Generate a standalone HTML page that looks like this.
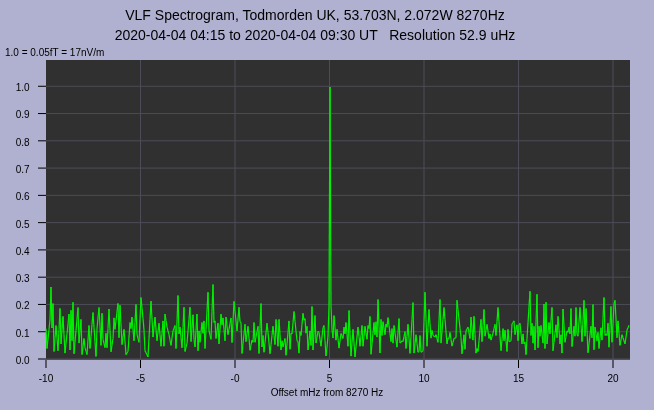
<!DOCTYPE html>
<html><head><meta charset="utf-8"><title>VLF Spectrogram</title>
<style>
html,body{margin:0;padding:0;background:#b0b0d0;}
body{width:654px;height:410px;overflow:hidden;position:relative;font-family:"Liberation Sans",sans-serif;color:#101018;}
svg{position:absolute;left:0;top:0;display:block;will-change:transform}
text{font-family:"Liberation Sans",sans-serif;fill:#000}
.t{font-size:14px;text-anchor:middle}
.s{font-size:10px}
.g{stroke:#4c4c58;stroke-width:1}
.k{stroke:#000;stroke-width:1}
</style></head><body>
<svg width="654" height="410" viewBox="0 0 654 410">
<rect x="0" y="0" width="654" height="410" fill="#b0b0d0"/>
<rect x="46" y="60" width="584" height="299.7" fill="#303030"/>
<text class="t" x="315" y="20">VLF Spectrogram, Todmorden UK, 53.703N, 2.072W 8270Hz</text>
<text class="t" x="315" y="40" style="white-space:pre">2020-04-04 04:15 to 2020-04-04 09:30 UT   Resolution 52.9 uHz</text>
<text class="s" x="5" y="56">1.0 = 0.05fT = 17nV/m</text>
<text class="s" x="327" y="396" text-anchor="middle">Offset mHz from 8270 Hz</text>

<line class="g" x1="46" x2="630" y1="359.0" y2="359.0"/>
<line class="k" x1="38" x2="46" y1="359.0" y2="359.0"/>
<line class="g" x1="46" x2="630" y1="331.73" y2="331.73"/>
<line class="k" x1="38" x2="46" y1="331.73" y2="331.73"/>
<line class="g" x1="46" x2="630" y1="304.45" y2="304.45"/>
<line class="k" x1="38" x2="46" y1="304.45" y2="304.45"/>
<line class="g" x1="46" x2="630" y1="277.18" y2="277.18"/>
<line class="k" x1="38" x2="46" y1="277.18" y2="277.18"/>
<line class="g" x1="46" x2="630" y1="249.91" y2="249.91"/>
<line class="k" x1="38" x2="46" y1="249.91" y2="249.91"/>
<line class="g" x1="46" x2="630" y1="222.64" y2="222.64"/>
<line class="k" x1="38" x2="46" y1="222.64" y2="222.64"/>
<line class="g" x1="46" x2="630" y1="195.36" y2="195.36"/>
<line class="k" x1="38" x2="46" y1="195.36" y2="195.36"/>
<line class="g" x1="46" x2="630" y1="168.09" y2="168.09"/>
<line class="k" x1="38" x2="46" y1="168.09" y2="168.09"/>
<line class="g" x1="46" x2="630" y1="140.82" y2="140.82"/>
<line class="k" x1="38" x2="46" y1="140.82" y2="140.82"/>
<line class="g" x1="46" x2="630" y1="113.55" y2="113.55"/>
<line class="k" x1="38" x2="46" y1="113.55" y2="113.55"/>
<line class="g" x1="46" x2="630" y1="86.27" y2="86.27"/>
<line class="k" x1="38" x2="46" y1="86.27" y2="86.27"/>
<line class="k" x1="46.0" x2="46.0" y1="360" y2="368"/>
<line class="g" x1="140.5" x2="140.5" y1="60" y2="359.7"/>
<line class="k" x1="140.5" x2="140.5" y1="360" y2="368"/>
<line class="g" x1="235.0" x2="235.0" y1="60" y2="359.7"/>
<line class="k" x1="235.0" x2="235.0" y1="360" y2="368"/>
<line class="g" x1="329.5" x2="329.5" y1="60" y2="359.7"/>
<line class="k" x1="329.5" x2="329.5" y1="360" y2="368"/>
<line class="g" x1="424.0" x2="424.0" y1="60" y2="359.7"/>
<line class="k" x1="424.0" x2="424.0" y1="360" y2="368"/>
<line class="g" x1="518.5" x2="518.5" y1="60" y2="359.7"/>
<line class="k" x1="518.5" x2="518.5" y1="360" y2="368"/>
<line class="g" x1="613.0" x2="613.0" y1="60" y2="359.7"/>
<line class="k" x1="613.0" x2="613.0" y1="360" y2="368"/>
<text class="s" x="29.7" y="363.90" text-anchor="end">0.0</text>
<text class="s" x="29.7" y="336.63" text-anchor="end">0.1</text>
<text class="s" x="29.7" y="309.35" text-anchor="end">0.2</text>
<text class="s" x="29.7" y="282.08" text-anchor="end">0.3</text>
<text class="s" x="29.7" y="254.81" text-anchor="end">0.4</text>
<text class="s" x="29.7" y="227.54" text-anchor="end">0.5</text>
<text class="s" x="29.7" y="200.26" text-anchor="end">0.6</text>
<text class="s" x="29.7" y="172.99" text-anchor="end">0.7</text>
<text class="s" x="29.7" y="145.72" text-anchor="end">0.8</text>
<text class="s" x="29.7" y="118.45" text-anchor="end">0.9</text>
<text class="s" x="29.7" y="91.17" text-anchor="end">1.0</text>
<text class="s" x="46.0" y="381.5" text-anchor="middle">-10</text>
<text class="s" x="140.5" y="381.5" text-anchor="middle">-5</text>
<text class="s" x="235.0" y="381.5" text-anchor="middle">-0</text>
<text class="s" x="329.5" y="381.5" text-anchor="middle">5</text>
<text class="s" x="424.0" y="381.5" text-anchor="middle">10</text>
<text class="s" x="518.5" y="381.5" text-anchor="middle">15</text>
<text class="s" x="613.0" y="381.5" text-anchor="middle">20</text>
<g fill="none" stroke="#00f000" stroke-width="1.2" stroke-linecap="butt">
<line x1="46" y1="328.6" x2="47" y2="348.5"/>
<line x1="47" y1="348.5" x2="48" y2="339.0"/>
<line x1="48" y1="339.0" x2="49" y2="329.5"/>
<line x1="49" y1="329.5" x2="50" y2="320.0"/>
<line x1="50" y1="320.0" x2="51" y2="287.0"/>
<line x1="51" y1="287.0" x2="52" y2="328.0"/>
<line x1="52" y1="328.0" x2="53" y2="303.4"/>
<line x1="53" y1="303.4" x2="54" y2="351.5"/>
<line x1="54" y1="351.5" x2="55" y2="338.5"/>
<line x1="55" y1="338.5" x2="56" y2="325.5"/>
<line x1="56" y1="325.5" x2="57" y2="338.1"/>
<line x1="57" y1="338.1" x2="58" y2="350.8"/>
<line x1="58" y1="350.8" x2="59" y2="329.6"/>
<line x1="59" y1="329.6" x2="60" y2="308.4"/>
<line x1="60" y1="308.4" x2="61" y2="343.9"/>
<line x1="61" y1="343.9" x2="62" y2="330.1"/>
<line x1="62" y1="330.1" x2="63" y2="316.4"/>
<line x1="63" y1="316.4" x2="64" y2="334.7"/>
<line x1="64" y1="334.7" x2="65" y2="353.1"/>
<line x1="65" y1="353.1" x2="66" y2="343.3"/>
<line x1="66" y1="343.3" x2="67" y2="333.6"/>
<line x1="67" y1="333.6" x2="68" y2="323.8"/>
<line x1="68" y1="323.8" x2="69" y2="314.1"/>
<line x1="69" y1="314.1" x2="70" y2="350.0"/>
<line x1="70" y1="350.0" x2="71" y2="310.2"/>
<line x1="71" y1="310.2" x2="72" y2="340.8"/>
<line x1="72" y1="340.8" x2="73" y2="302.3"/>
<line x1="73" y1="302.3" x2="74" y2="353.8"/>
<line x1="74" y1="353.8" x2="75" y2="342.2"/>
<line x1="75" y1="342.2" x2="76" y2="330.6"/>
<line x1="76" y1="330.6" x2="77" y2="319.1"/>
<line x1="77" y1="319.1" x2="78" y2="307.5"/>
<line x1="78" y1="307.5" x2="79" y2="343.1"/>
<line x1="79" y1="343.1" x2="80" y2="331.3"/>
<line x1="80" y1="331.3" x2="81" y2="319.4"/>
<line x1="81" y1="319.4" x2="82" y2="354.6"/>
<line x1="82" y1="354.6" x2="83" y2="346.5"/>
<line x1="83" y1="346.5" x2="84" y2="338.5"/>
<line x1="84" y1="338.5" x2="85" y2="347.7"/>
<line x1="85" y1="347.7" x2="86" y2="351.1"/>
<line x1="86" y1="351.1" x2="87" y2="354.6"/>
<line x1="87" y1="354.6" x2="88" y2="340.0"/>
<line x1="88" y1="340.0" x2="89" y2="325.5"/>
<line x1="89" y1="325.5" x2="90" y2="348.5"/>
<line x1="90" y1="348.5" x2="91" y2="336.5"/>
<line x1="91" y1="336.5" x2="92" y2="324.5"/>
<line x1="92" y1="324.5" x2="93" y2="312.5"/>
<line x1="93" y1="312.5" x2="94" y2="327.2"/>
<line x1="94" y1="327.2" x2="95" y2="341.8"/>
<line x1="95" y1="341.8" x2="96" y2="356.4"/>
<line x1="96" y1="356.4" x2="97" y2="328.6"/>
<line x1="97" y1="328.6" x2="98" y2="318.0"/>
<line x1="98" y1="318.0" x2="99" y2="307.5"/>
<line x1="99" y1="307.5" x2="100" y2="326.4"/>
<line x1="100" y1="326.4" x2="101" y2="345.4"/>
<line x1="101" y1="345.4" x2="102" y2="313.3"/>
<line x1="102" y1="313.3" x2="103" y2="339.3"/>
<line x1="103" y1="339.3" x2="104" y2="343.5"/>
<line x1="104" y1="343.5" x2="105" y2="347.7"/>
<line x1="105" y1="347.7" x2="106" y2="333.2"/>
<line x1="106" y1="333.2" x2="107" y2="347.7"/>
<line x1="107" y1="347.7" x2="108" y2="328.4"/>
<line x1="108" y1="328.4" x2="109" y2="309.0"/>
<line x1="109" y1="309.0" x2="110" y2="330.4"/>
<line x1="110" y1="330.4" x2="111" y2="351.8"/>
<line x1="111" y1="351.8" x2="112" y2="345.2"/>
<line x1="112" y1="345.2" x2="113" y2="338.5"/>
<line x1="113" y1="338.5" x2="114" y2="317.9"/>
<line x1="114" y1="317.9" x2="115" y2="329.4"/>
<line x1="115" y1="329.4" x2="116" y2="320.7"/>
<line x1="116" y1="320.7" x2="117" y2="312.0"/>
<line x1="117" y1="312.0" x2="118" y2="303.4"/>
<line x1="118" y1="303.4" x2="119" y2="337.8"/>
<line x1="119" y1="337.8" x2="120" y2="305.3"/>
<line x1="120" y1="305.3" x2="121" y2="325.0"/>
<line x1="121" y1="325.0" x2="122" y2="344.6"/>
<line x1="122" y1="344.6" x2="123" y2="337.0"/>
<line x1="123" y1="337.0" x2="124" y2="329.4"/>
<line x1="124" y1="329.4" x2="125" y2="342.0"/>
<line x1="125" y1="342.0" x2="126" y2="354.6"/>
<line x1="126" y1="354.6" x2="127" y2="353.0"/>
<line x1="127" y1="353.0" x2="128" y2="351.5"/>
<line x1="128" y1="351.5" x2="129" y2="337.0"/>
<line x1="129" y1="337.0" x2="130" y2="322.5"/>
<line x1="130" y1="322.5" x2="131" y2="328.6"/>
<line x1="131" y1="328.6" x2="132" y2="317.1"/>
<line x1="132" y1="317.1" x2="133" y2="329.0"/>
<line x1="133" y1="329.0" x2="134" y2="340.8"/>
<line x1="134" y1="340.8" x2="135" y2="322.6"/>
<line x1="135" y1="322.6" x2="136" y2="304.4"/>
<line x1="136" y1="304.4" x2="137" y2="334.7"/>
<line x1="137" y1="334.7" x2="138" y2="338.5"/>
<line x1="138" y1="338.5" x2="139" y2="342.3"/>
<line x1="139" y1="342.3" x2="140" y2="319.9"/>
<line x1="140" y1="319.9" x2="141" y2="297.5"/>
<line x1="141" y1="297.5" x2="142" y2="308.1"/>
<line x1="142" y1="308.1" x2="143" y2="318.6"/>
<line x1="143" y1="318.6" x2="144" y2="330.1"/>
<line x1="144" y1="330.1" x2="145" y2="350.8"/>
<line x1="145" y1="350.8" x2="146" y2="352.8"/>
<line x1="146" y1="352.8" x2="147" y2="354.8"/>
<line x1="147" y1="354.8" x2="148" y2="356.9"/>
<line x1="148" y1="356.9" x2="149" y2="338.3"/>
<line x1="149" y1="338.3" x2="150" y2="319.7"/>
<line x1="150" y1="319.7" x2="151" y2="301.1"/>
<line x1="151" y1="301.1" x2="152" y2="319.0"/>
<line x1="152" y1="319.0" x2="153" y2="337.0"/>
<line x1="153" y1="337.0" x2="154" y2="327.1"/>
<line x1="154" y1="327.1" x2="155" y2="317.1"/>
<line x1="155" y1="317.1" x2="156" y2="329.0"/>
<line x1="156" y1="329.0" x2="157" y2="340.8"/>
<line x1="157" y1="340.8" x2="158" y2="332.0"/>
<line x1="158" y1="332.0" x2="159" y2="323.2"/>
<line x1="159" y1="323.2" x2="160" y2="334.7"/>
<line x1="160" y1="334.7" x2="161" y2="346.2"/>
<line x1="161" y1="346.2" x2="162" y2="333.6"/>
<line x1="162" y1="333.6" x2="163" y2="320.9"/>
<line x1="163" y1="320.9" x2="164" y2="346.2"/>
<line x1="164" y1="346.2" x2="165" y2="314.1"/>
<line x1="165" y1="314.1" x2="166" y2="320.6"/>
<line x1="166" y1="320.6" x2="167" y2="327.1"/>
<line x1="167" y1="327.1" x2="168" y2="330.9"/>
<line x1="168" y1="330.9" x2="169" y2="334.7"/>
<line x1="169" y1="334.7" x2="170" y2="340.0"/>
<line x1="170" y1="340.0" x2="171" y2="345.4"/>
<line x1="171" y1="345.4" x2="172" y2="338.1"/>
<line x1="172" y1="338.1" x2="173" y2="330.9"/>
<line x1="173" y1="330.9" x2="174" y2="328.2"/>
<line x1="174" y1="328.2" x2="175" y2="325.5"/>
<line x1="175" y1="325.5" x2="176" y2="348.5"/>
<line x1="176" y1="348.5" x2="177" y2="321.9"/>
<line x1="177" y1="321.9" x2="178" y2="295.4"/>
<line x1="178" y1="295.4" x2="179" y2="333.9"/>
<line x1="179" y1="333.9" x2="180" y2="327.1"/>
<line x1="180" y1="327.1" x2="181" y2="337.4"/>
<line x1="181" y1="337.4" x2="182" y2="347.7"/>
<line x1="182" y1="347.7" x2="183" y2="327.4"/>
<line x1="183" y1="327.4" x2="184" y2="307.2"/>
<line x1="184" y1="307.2" x2="185" y2="351.5"/>
<line x1="185" y1="351.5" x2="186" y2="347.3"/>
<line x1="186" y1="347.3" x2="187" y2="343.1"/>
<line x1="187" y1="343.1" x2="188" y2="331.1"/>
<line x1="188" y1="331.1" x2="189" y2="319.2"/>
<line x1="189" y1="319.2" x2="190" y2="307.2"/>
<line x1="190" y1="307.2" x2="191" y2="341.6"/>
<line x1="191" y1="341.6" x2="192" y2="328.2"/>
<line x1="192" y1="328.2" x2="193" y2="314.8"/>
<line x1="193" y1="314.8" x2="194" y2="339.3"/>
<line x1="194" y1="339.3" x2="195" y2="346.9"/>
<line x1="195" y1="346.9" x2="196" y2="330.5"/>
<line x1="196" y1="330.5" x2="197" y2="314.1"/>
<line x1="197" y1="314.1" x2="198" y2="350.8"/>
<line x1="198" y1="350.8" x2="199" y2="330.9"/>
<line x1="199" y1="330.9" x2="200" y2="342.3"/>
<line x1="200" y1="342.3" x2="201" y2="332.4"/>
<line x1="201" y1="332.4" x2="202" y2="322.5"/>
<line x1="202" y1="322.5" x2="203" y2="333.2"/>
<line x1="203" y1="333.2" x2="204" y2="320.9"/>
<line x1="204" y1="320.9" x2="205" y2="348.5"/>
<line x1="205" y1="348.5" x2="206" y2="329.8"/>
<line x1="206" y1="329.8" x2="207" y2="311.0"/>
<line x1="207" y1="311.0" x2="208" y2="292.3"/>
<line x1="208" y1="292.3" x2="209" y2="330.9"/>
<line x1="209" y1="330.9" x2="210" y2="335.1"/>
<line x1="210" y1="335.1" x2="211" y2="339.3"/>
<line x1="211" y1="339.3" x2="212" y2="311.8"/>
<line x1="212" y1="311.8" x2="213" y2="284.4"/>
<line x1="213" y1="284.4" x2="214" y2="322.5"/>
<line x1="214" y1="322.5" x2="215" y2="320.9"/>
<line x1="215" y1="320.9" x2="216" y2="338.5"/>
<line x1="216" y1="338.5" x2="217" y2="330.9"/>
<line x1="217" y1="330.9" x2="218" y2="323.2"/>
<line x1="218" y1="323.2" x2="219" y2="343.9"/>
<line x1="219" y1="343.9" x2="220" y2="329.0"/>
<line x1="220" y1="329.0" x2="221" y2="314.1"/>
<line x1="221" y1="314.1" x2="222" y2="324.8"/>
<line x1="222" y1="324.8" x2="223" y2="317.9"/>
<line x1="223" y1="317.9" x2="224" y2="329.3"/>
<line x1="224" y1="329.3" x2="225" y2="340.8"/>
<line x1="225" y1="340.8" x2="226" y2="317.1"/>
<line x1="226" y1="317.1" x2="227" y2="325.9"/>
<line x1="227" y1="325.9" x2="228" y2="334.7"/>
<line x1="228" y1="334.7" x2="229" y2="329.1"/>
<line x1="229" y1="329.1" x2="230" y2="323.5"/>
<line x1="230" y1="323.5" x2="231" y2="317.9"/>
<line x1="231" y1="317.9" x2="232" y2="342.6"/>
<line x1="232" y1="342.6" x2="233" y2="322.0"/>
<line x1="233" y1="322.0" x2="234" y2="301.4"/>
<line x1="234" y1="301.4" x2="235" y2="311.2"/>
<line x1="235" y1="311.2" x2="236" y2="321.0"/>
<line x1="236" y1="321.0" x2="237" y2="330.9"/>
<line x1="237" y1="330.9" x2="238" y2="319.0"/>
<line x1="238" y1="319.0" x2="239" y2="307.2"/>
<line x1="239" y1="307.2" x2="240" y2="321.7"/>
<line x1="240" y1="321.7" x2="241" y2="322.5"/>
<line x1="241" y1="322.5" x2="242" y2="353.4"/>
<line x1="242" y1="353.4" x2="243" y2="343.7"/>
<line x1="243" y1="343.7" x2="244" y2="334.0"/>
<line x1="244" y1="334.0" x2="245" y2="324.3"/>
<line x1="245" y1="324.3" x2="246" y2="341.6"/>
<line x1="246" y1="341.6" x2="247" y2="333.9"/>
<line x1="247" y1="333.9" x2="248" y2="326.3"/>
<line x1="248" y1="326.3" x2="249" y2="338.3"/>
<line x1="249" y1="338.3" x2="250" y2="350.3"/>
<line x1="250" y1="350.3" x2="251" y2="345.2"/>
<line x1="251" y1="345.2" x2="252" y2="340.1"/>
<line x1="252" y1="340.1" x2="253" y2="342.3"/>
<line x1="253" y1="342.3" x2="254" y2="322.5"/>
<line x1="254" y1="322.5" x2="255" y2="342.3"/>
<line x1="255" y1="342.3" x2="256" y2="337.0"/>
<line x1="256" y1="337.0" x2="257" y2="331.6"/>
<line x1="257" y1="331.6" x2="258" y2="326.3"/>
<line x1="258" y1="326.3" x2="259" y2="353.4"/>
<line x1="259" y1="353.4" x2="260" y2="328.4"/>
<line x1="260" y1="328.4" x2="261" y2="303.4"/>
<line x1="261" y1="303.4" x2="262" y2="346.9"/>
<line x1="262" y1="346.9" x2="263" y2="335.5"/>
<line x1="263" y1="335.5" x2="264" y2="352.3"/>
<line x1="264" y1="352.3" x2="265" y2="342.6"/>
<line x1="265" y1="342.6" x2="266" y2="332.9"/>
<line x1="266" y1="332.9" x2="267" y2="323.2"/>
<line x1="267" y1="323.2" x2="268" y2="332.4"/>
<line x1="268" y1="332.4" x2="269" y2="343.1"/>
<line x1="269" y1="343.1" x2="270" y2="353.8"/>
<line x1="270" y1="353.8" x2="271" y2="344.6"/>
<line x1="271" y1="344.6" x2="272" y2="335.5"/>
<line x1="272" y1="335.5" x2="273" y2="326.3"/>
<line x1="273" y1="326.3" x2="274" y2="335.5"/>
<line x1="274" y1="335.5" x2="275" y2="344.6"/>
<line x1="275" y1="344.6" x2="276" y2="319.4"/>
<line x1="276" y1="319.4" x2="277" y2="332.8"/>
<line x1="277" y1="332.8" x2="278" y2="346.2"/>
<line x1="278" y1="346.2" x2="279" y2="319.4"/>
<line x1="279" y1="319.4" x2="280" y2="334.7"/>
<line x1="280" y1="334.7" x2="281" y2="350.0"/>
<line x1="281" y1="350.0" x2="282" y2="340.8"/>
<line x1="282" y1="340.8" x2="283" y2="346.9"/>
<line x1="283" y1="346.9" x2="284" y2="342.7"/>
<line x1="284" y1="342.7" x2="285" y2="338.5"/>
<line x1="285" y1="338.5" x2="286" y2="355.3"/>
<line x1="286" y1="355.3" x2="287" y2="343.9"/>
<line x1="287" y1="343.9" x2="288" y2="332.4"/>
<line x1="288" y1="332.4" x2="289" y2="320.9"/>
<line x1="289" y1="320.9" x2="290" y2="349.2"/>
<line x1="290" y1="349.2" x2="291" y2="333.2"/>
<line x1="291" y1="333.2" x2="292" y2="333.9"/>
<line x1="292" y1="333.9" x2="293" y2="322.7"/>
<line x1="293" y1="322.7" x2="294" y2="311.5"/>
<line x1="294" y1="311.5" x2="295" y2="321.2"/>
<line x1="295" y1="321.2" x2="296" y2="331.0"/>
<line x1="296" y1="331.0" x2="297" y2="340.8"/>
<line x1="297" y1="340.8" x2="298" y2="341.6"/>
<line x1="298" y1="341.6" x2="299" y2="353.1"/>
<line x1="299" y1="353.1" x2="300" y2="331.6"/>
<line x1="300" y1="331.6" x2="301" y2="335.5"/>
<line x1="301" y1="335.5" x2="302" y2="324.4"/>
<line x1="302" y1="324.4" x2="303" y2="313.3"/>
<line x1="303" y1="313.3" x2="304" y2="320.2"/>
<line x1="304" y1="320.2" x2="305" y2="318.6"/>
<line x1="305" y1="318.6" x2="306" y2="333.2"/>
<line x1="306" y1="333.2" x2="307" y2="326.3"/>
<line x1="307" y1="326.3" x2="308" y2="350.0"/>
<line x1="308" y1="350.0" x2="309" y2="340.4"/>
<line x1="309" y1="340.4" x2="310" y2="330.9"/>
<line x1="310" y1="330.9" x2="311" y2="345.4"/>
<line x1="311" y1="345.4" x2="312" y2="306.4"/>
<line x1="312" y1="306.4" x2="313" y2="350.0"/>
<line x1="313" y1="350.0" x2="314" y2="332.8"/>
<line x1="314" y1="332.8" x2="315" y2="315.6"/>
<line x1="315" y1="315.6" x2="316" y2="343.1"/>
<line x1="316" y1="343.1" x2="317" y2="337.2"/>
<line x1="317" y1="337.2" x2="318" y2="331.3"/>
<line x1="318" y1="331.3" x2="319" y2="332.4"/>
<line x1="319" y1="332.4" x2="320" y2="339.3"/>
<line x1="320" y1="339.3" x2="321" y2="346.2"/>
<line x1="321" y1="346.2" x2="322" y2="337.0"/>
<line x1="322" y1="337.0" x2="323" y2="327.8"/>
<line x1="323" y1="327.8" x2="324" y2="325.5"/>
<line x1="324" y1="325.5" x2="325" y2="340.8"/>
<line x1="325" y1="340.8" x2="326" y2="356.0"/>
<line x1="326" y1="356.0" x2="327" y2="347.0"/>
<line x1="327" y1="347.0" x2="328" y2="336.0"/>
<line x1="328" y1="336.0" x2="329" y2="306.0"/>
<line x1="329" y1="306.0" x2="330" y2="87.0"/>
<line x1="330" y1="87.0" x2="331" y2="306.0"/>
<line x1="331" y1="306.0" x2="332" y2="329.0"/>
<line x1="332" y1="329.0" x2="333" y2="338.0"/>
<line x1="333" y1="338.0" x2="334" y2="315.6"/>
<line x1="334" y1="315.6" x2="335" y2="327.8"/>
<line x1="335" y1="327.8" x2="336" y2="340.1"/>
<line x1="336" y1="340.1" x2="337" y2="329.4"/>
<line x1="337" y1="329.4" x2="338" y2="338.8"/>
<line x1="338" y1="338.8" x2="339" y2="348.1"/>
<line x1="339" y1="348.1" x2="340" y2="340.8"/>
<line x1="340" y1="340.8" x2="341" y2="333.5"/>
<line x1="341" y1="333.5" x2="342" y2="336.0"/>
<line x1="342" y1="336.0" x2="343" y2="338.5"/>
<line x1="343" y1="338.5" x2="344" y2="327.1"/>
<line x1="344" y1="327.1" x2="345" y2="333.9"/>
<line x1="345" y1="333.9" x2="346" y2="322.5"/>
<line x1="346" y1="322.5" x2="347" y2="334.3"/>
<line x1="347" y1="334.3" x2="348" y2="346.2"/>
<line x1="348" y1="346.2" x2="349" y2="310.5"/>
<line x1="349" y1="310.5" x2="350" y2="333.3"/>
<line x1="350" y1="333.3" x2="351" y2="356.1"/>
<line x1="351" y1="356.1" x2="352" y2="342.7"/>
<line x1="352" y1="342.7" x2="353" y2="329.4"/>
<line x1="353" y1="329.4" x2="354" y2="343.1"/>
<line x1="354" y1="343.1" x2="355" y2="356.9"/>
<line x1="355" y1="356.9" x2="356" y2="346.9"/>
<line x1="356" y1="346.9" x2="357" y2="337.0"/>
<line x1="357" y1="337.0" x2="358" y2="327.1"/>
<line x1="358" y1="327.1" x2="359" y2="336.6"/>
<line x1="359" y1="336.6" x2="360" y2="346.2"/>
<line x1="360" y1="346.2" x2="361" y2="335.8"/>
<line x1="361" y1="335.8" x2="362" y2="325.5"/>
<line x1="362" y1="325.5" x2="363" y2="346.2"/>
<line x1="363" y1="346.2" x2="364" y2="336.2"/>
<line x1="364" y1="336.2" x2="365" y2="326.3"/>
<line x1="365" y1="326.3" x2="366" y2="332.8"/>
<line x1="366" y1="332.8" x2="367" y2="339.3"/>
<line x1="367" y1="339.3" x2="368" y2="325.5"/>
<line x1="368" y1="325.5" x2="369" y2="328.6"/>
<line x1="369" y1="328.6" x2="370" y2="316.4"/>
<line x1="370" y1="316.4" x2="371" y2="354.3"/>
<line x1="371" y1="354.3" x2="372" y2="343.7"/>
<line x1="372" y1="343.7" x2="373" y2="333.1"/>
<line x1="373" y1="333.1" x2="374" y2="322.5"/>
<line x1="374" y1="322.5" x2="375" y2="334.7"/>
<line x1="375" y1="334.7" x2="376" y2="321.7"/>
<line x1="376" y1="321.7" x2="377" y2="337.0"/>
<line x1="377" y1="337.0" x2="378" y2="299.5"/>
<line x1="378" y1="299.5" x2="379" y2="326.3"/>
<line x1="379" y1="326.3" x2="380" y2="353.1"/>
<line x1="380" y1="353.1" x2="381" y2="319.4"/>
<line x1="381" y1="319.4" x2="382" y2="335.5"/>
<line x1="382" y1="335.5" x2="383" y2="321.7"/>
<line x1="383" y1="321.7" x2="384" y2="328.2"/>
<line x1="384" y1="328.2" x2="385" y2="334.7"/>
<line x1="385" y1="334.7" x2="386" y2="324.0"/>
<line x1="386" y1="324.0" x2="387" y2="327.1"/>
<line x1="387" y1="327.1" x2="388" y2="317.6"/>
<line x1="388" y1="317.6" x2="389" y2="325.6"/>
<line x1="389" y1="325.6" x2="390" y2="333.6"/>
<line x1="390" y1="333.6" x2="391" y2="341.6"/>
<line x1="391" y1="341.6" x2="392" y2="328.6"/>
<line x1="392" y1="328.6" x2="393" y2="343.1"/>
<line x1="393" y1="343.1" x2="394" y2="325.5"/>
<line x1="394" y1="325.5" x2="395" y2="332.8"/>
<line x1="395" y1="332.8" x2="396" y2="340.0"/>
<line x1="396" y1="340.0" x2="397" y2="347.2"/>
<line x1="397" y1="347.2" x2="398" y2="332.9"/>
<line x1="398" y1="332.9" x2="399" y2="318.6"/>
<line x1="399" y1="318.6" x2="400" y2="343.1"/>
<line x1="400" y1="343.1" x2="401" y2="342.0"/>
<line x1="401" y1="342.0" x2="402" y2="340.8"/>
<line x1="402" y1="340.8" x2="403" y2="341.6"/>
<line x1="403" y1="341.6" x2="404" y2="336.6"/>
<line x1="404" y1="336.6" x2="405" y2="331.6"/>
<line x1="405" y1="331.6" x2="406" y2="348.5"/>
<line x1="406" y1="348.5" x2="407" y2="336.4"/>
<line x1="407" y1="336.4" x2="408" y2="324.3"/>
<line x1="408" y1="324.3" x2="409" y2="338.8"/>
<line x1="409" y1="338.8" x2="410" y2="353.4"/>
<line x1="410" y1="353.4" x2="411" y2="336.4"/>
<line x1="411" y1="336.4" x2="412" y2="319.5"/>
<line x1="412" y1="319.5" x2="413" y2="302.6"/>
<line x1="413" y1="302.6" x2="414" y2="353.1"/>
<line x1="414" y1="353.1" x2="415" y2="343.9"/>
<line x1="415" y1="343.9" x2="416" y2="334.7"/>
<line x1="416" y1="334.7" x2="417" y2="343.5"/>
<line x1="417" y1="343.5" x2="418" y2="352.3"/>
<line x1="418" y1="352.3" x2="419" y2="351.5"/>
<line x1="419" y1="351.5" x2="420" y2="335.5"/>
<line x1="420" y1="335.5" x2="421" y2="352.3"/>
<line x1="421" y1="352.3" x2="422" y2="351.5"/>
<line x1="422" y1="351.5" x2="423" y2="350.8"/>
<line x1="423" y1="350.8" x2="424" y2="321.5"/>
<line x1="424" y1="321.5" x2="425" y2="292.3"/>
<line x1="425" y1="292.3" x2="426" y2="319.3"/>
<line x1="426" y1="319.3" x2="427" y2="346.2"/>
<line x1="427" y1="346.2" x2="428" y2="327.8"/>
<line x1="428" y1="327.8" x2="429" y2="309.5"/>
<line x1="429" y1="309.5" x2="430" y2="323.8"/>
<line x1="430" y1="323.8" x2="431" y2="338.1"/>
<line x1="431" y1="338.1" x2="432" y2="330.4"/>
<line x1="432" y1="330.4" x2="433" y2="335.5"/>
<line x1="433" y1="335.5" x2="434" y2="336.2"/>
<line x1="434" y1="336.2" x2="435" y2="337.0"/>
<line x1="435" y1="337.0" x2="436" y2="334.7"/>
<line x1="436" y1="334.7" x2="437" y2="338.5"/>
<line x1="437" y1="338.5" x2="438" y2="342.3"/>
<line x1="438" y1="342.3" x2="439" y2="320.9"/>
<line x1="439" y1="320.9" x2="440" y2="299.5"/>
<line x1="440" y1="299.5" x2="441" y2="343.1"/>
<line x1="441" y1="343.1" x2="442" y2="331.2"/>
<line x1="442" y1="331.2" x2="443" y2="319.4"/>
<line x1="443" y1="319.4" x2="444" y2="307.5"/>
<line x1="444" y1="307.5" x2="445" y2="319.6"/>
<line x1="445" y1="319.6" x2="446" y2="331.7"/>
<line x1="446" y1="331.7" x2="447" y2="343.9"/>
<line x1="447" y1="343.9" x2="448" y2="338.1"/>
<line x1="448" y1="338.1" x2="449" y2="338.5"/>
<line x1="449" y1="338.5" x2="450" y2="332.4"/>
<line x1="450" y1="332.4" x2="451" y2="339.3"/>
<line x1="451" y1="339.3" x2="452" y2="346.2"/>
<line x1="452" y1="346.2" x2="453" y2="342.3"/>
<line x1="453" y1="342.3" x2="454" y2="338.5"/>
<line x1="454" y1="338.5" x2="455" y2="338.1"/>
<line x1="455" y1="338.1" x2="456" y2="337.8"/>
<line x1="456" y1="337.8" x2="457" y2="300.3"/>
<line x1="457" y1="300.3" x2="458" y2="309.7"/>
<line x1="458" y1="309.7" x2="459" y2="319.0"/>
<line x1="459" y1="319.0" x2="460" y2="328.4"/>
<line x1="460" y1="328.4" x2="461" y2="337.8"/>
<line x1="461" y1="337.8" x2="462" y2="353.8"/>
<line x1="462" y1="353.8" x2="463" y2="344.3"/>
<line x1="463" y1="344.3" x2="464" y2="334.7"/>
<line x1="464" y1="334.7" x2="465" y2="349.2"/>
<line x1="465" y1="349.2" x2="466" y2="330.9"/>
<line x1="466" y1="330.9" x2="467" y2="329.0"/>
<line x1="467" y1="329.0" x2="468" y2="327.1"/>
<line x1="468" y1="327.1" x2="469" y2="332.8"/>
<line x1="469" y1="332.8" x2="470" y2="338.5"/>
<line x1="470" y1="338.5" x2="471" y2="317.1"/>
<line x1="471" y1="317.1" x2="472" y2="328.6"/>
<line x1="472" y1="328.6" x2="473" y2="340.1"/>
<line x1="473" y1="340.1" x2="474" y2="316.4"/>
<line x1="474" y1="316.4" x2="475" y2="334.7"/>
<line x1="475" y1="334.7" x2="476" y2="353.1"/>
<line x1="476" y1="353.1" x2="477" y2="348.5"/>
<line x1="477" y1="348.5" x2="478" y2="351.5"/>
<line x1="478" y1="351.5" x2="479" y2="340.8"/>
<line x1="479" y1="340.8" x2="480" y2="330.1"/>
<line x1="480" y1="330.1" x2="481" y2="319.4"/>
<line x1="481" y1="319.4" x2="482" y2="341.6"/>
<line x1="482" y1="341.6" x2="483" y2="325.5"/>
<line x1="483" y1="325.5" x2="484" y2="309.5"/>
<line x1="484" y1="309.5" x2="485" y2="336.2"/>
<line x1="485" y1="336.2" x2="486" y2="330.3"/>
<line x1="486" y1="330.3" x2="487" y2="324.3"/>
<line x1="487" y1="324.3" x2="488" y2="331.4"/>
<line x1="488" y1="331.4" x2="489" y2="338.5"/>
<line x1="489" y1="338.5" x2="490" y2="333.9"/>
<line x1="490" y1="333.9" x2="491" y2="340.1"/>
<line x1="491" y1="340.1" x2="492" y2="336.6"/>
<line x1="492" y1="336.6" x2="493" y2="333.2"/>
<line x1="493" y1="333.2" x2="494" y2="328.7"/>
<line x1="494" y1="328.7" x2="495" y2="324.3"/>
<line x1="495" y1="324.3" x2="496" y2="335.5"/>
<line x1="496" y1="335.5" x2="497" y2="321.5"/>
<line x1="497" y1="321.5" x2="498" y2="307.5"/>
<line x1="498" y1="307.5" x2="499" y2="321.9"/>
<line x1="499" y1="321.9" x2="500" y2="336.3"/>
<line x1="500" y1="336.3" x2="501" y2="350.8"/>
<line x1="501" y1="350.8" x2="502" y2="339.7"/>
<line x1="502" y1="339.7" x2="503" y2="328.6"/>
<line x1="503" y1="328.6" x2="504" y2="340.8"/>
<line x1="504" y1="340.8" x2="505" y2="330.1"/>
<line x1="505" y1="330.1" x2="506" y2="340.8"/>
<line x1="506" y1="340.8" x2="507" y2="351.5"/>
<line x1="507" y1="351.5" x2="508" y2="329.4"/>
<line x1="508" y1="329.4" x2="509" y2="341.6"/>
<line x1="509" y1="341.6" x2="510" y2="341.2"/>
<line x1="510" y1="341.2" x2="511" y2="340.8"/>
<line x1="511" y1="340.8" x2="512" y2="324.0"/>
<line x1="512" y1="324.0" x2="513" y2="322.5"/>
<line x1="513" y1="322.5" x2="514" y2="320.9"/>
<line x1="514" y1="320.9" x2="515" y2="334.7"/>
<line x1="515" y1="334.7" x2="516" y2="329.7"/>
<line x1="516" y1="329.7" x2="517" y2="324.8"/>
<line x1="517" y1="324.8" x2="518" y2="340.8"/>
<line x1="518" y1="340.8" x2="519" y2="324.8"/>
<line x1="519" y1="324.8" x2="520" y2="323.2"/>
<line x1="520" y1="323.2" x2="521" y2="333.6"/>
<line x1="521" y1="333.6" x2="522" y2="343.9"/>
<line x1="522" y1="343.9" x2="523" y2="333.9"/>
<line x1="523" y1="333.9" x2="524" y2="343.9"/>
<line x1="524" y1="343.9" x2="525" y2="342.3"/>
<line x1="525" y1="342.3" x2="526" y2="354.6"/>
<line x1="526" y1="354.6" x2="527" y2="338.7"/>
<line x1="527" y1="338.7" x2="528" y2="322.9"/>
<line x1="528" y1="322.9" x2="529" y2="307.1"/>
<line x1="529" y1="307.1" x2="530" y2="291.3"/>
<line x1="530" y1="291.3" x2="531" y2="335.5"/>
<line x1="531" y1="335.5" x2="532" y2="323.2"/>
<line x1="532" y1="323.2" x2="533" y2="343.1"/>
<line x1="533" y1="343.1" x2="534" y2="326.3"/>
<line x1="534" y1="326.3" x2="535" y2="350.0"/>
<line x1="535" y1="350.0" x2="536" y2="322.2"/>
<line x1="536" y1="322.2" x2="537" y2="294.3"/>
<line x1="537" y1="294.3" x2="538" y2="347.7"/>
<line x1="538" y1="347.7" x2="539" y2="326.3"/>
<line x1="539" y1="326.3" x2="540" y2="336.2"/>
<line x1="540" y1="336.2" x2="541" y2="325.5"/>
<line x1="541" y1="325.5" x2="542" y2="334.3"/>
<line x1="542" y1="334.3" x2="543" y2="343.1"/>
<line x1="543" y1="343.1" x2="544" y2="304.1"/>
<line x1="544" y1="304.1" x2="545" y2="348.5"/>
<line x1="545" y1="348.5" x2="546" y2="302.3"/>
<line x1="546" y1="302.3" x2="547" y2="343.9"/>
<line x1="547" y1="343.9" x2="548" y2="333.2"/>
<line x1="548" y1="333.2" x2="549" y2="322.5"/>
<line x1="549" y1="322.5" x2="550" y2="333.9"/>
<line x1="550" y1="333.9" x2="551" y2="320.7"/>
<line x1="551" y1="320.7" x2="552" y2="307.5"/>
<line x1="552" y1="307.5" x2="553" y2="350.8"/>
<line x1="553" y1="350.8" x2="554" y2="342.3"/>
<line x1="554" y1="342.3" x2="555" y2="333.5"/>
<line x1="555" y1="333.5" x2="556" y2="324.8"/>
<line x1="556" y1="324.8" x2="557" y2="337.8"/>
<line x1="557" y1="337.8" x2="558" y2="316.4"/>
<line x1="558" y1="316.4" x2="559" y2="330.1"/>
<line x1="559" y1="330.1" x2="560" y2="343.9"/>
<line x1="560" y1="343.9" x2="561" y2="334.7"/>
<line x1="561" y1="334.7" x2="562" y2="353.1"/>
<line x1="562" y1="353.1" x2="563" y2="309.0"/>
<line x1="563" y1="309.0" x2="564" y2="325.7"/>
<line x1="564" y1="325.7" x2="565" y2="342.3"/>
<line x1="565" y1="342.3" x2="566" y2="336.6"/>
<line x1="566" y1="336.6" x2="567" y2="330.9"/>
<line x1="567" y1="330.9" x2="568" y2="332.4"/>
<line x1="568" y1="332.4" x2="569" y2="327.1"/>
<line x1="569" y1="327.1" x2="570" y2="333.9"/>
<line x1="570" y1="333.9" x2="571" y2="308.4"/>
<line x1="571" y1="308.4" x2="572" y2="346.6"/>
<line x1="572" y1="346.6" x2="573" y2="336.5"/>
<line x1="573" y1="336.5" x2="574" y2="326.3"/>
<line x1="574" y1="326.3" x2="575" y2="336.2"/>
<line x1="575" y1="336.2" x2="576" y2="307.5"/>
<line x1="576" y1="307.5" x2="577" y2="334.7"/>
<line x1="577" y1="334.7" x2="578" y2="336.2"/>
<line x1="578" y1="336.2" x2="579" y2="321.9"/>
<line x1="579" y1="321.9" x2="580" y2="307.5"/>
<line x1="580" y1="307.5" x2="581" y2="324.5"/>
<line x1="581" y1="324.5" x2="582" y2="341.6"/>
<line x1="582" y1="341.6" x2="583" y2="320.9"/>
<line x1="583" y1="320.9" x2="584" y2="300.3"/>
<line x1="584" y1="300.3" x2="585" y2="336.2"/>
<line x1="585" y1="336.2" x2="586" y2="308.4"/>
<line x1="586" y1="308.4" x2="587" y2="330.6"/>
<line x1="587" y1="330.6" x2="588" y2="352.7"/>
<line x1="588" y1="352.7" x2="589" y2="343.9"/>
<line x1="589" y1="343.9" x2="590" y2="335.1"/>
<line x1="590" y1="335.1" x2="591" y2="326.3"/>
<line x1="591" y1="326.3" x2="592" y2="337.8"/>
<line x1="592" y1="337.8" x2="593" y2="304.4"/>
<line x1="593" y1="304.4" x2="594" y2="349.7"/>
<line x1="594" y1="349.7" x2="595" y2="327.1"/>
<line x1="595" y1="327.1" x2="596" y2="333.9"/>
<line x1="596" y1="333.9" x2="597" y2="340.8"/>
<line x1="597" y1="340.8" x2="598" y2="332.4"/>
<line x1="598" y1="332.4" x2="599" y2="348.5"/>
<line x1="599" y1="348.5" x2="600" y2="338.1"/>
<line x1="600" y1="338.1" x2="601" y2="327.8"/>
<line x1="601" y1="327.8" x2="602" y2="340.1"/>
<line x1="602" y1="340.1" x2="603" y2="318.8"/>
<line x1="603" y1="318.8" x2="604" y2="297.5"/>
<line x1="604" y1="297.5" x2="605" y2="335.5"/>
<line x1="605" y1="335.5" x2="606" y2="333.9"/>
<line x1="606" y1="333.9" x2="607" y2="335.5"/>
<line x1="607" y1="335.5" x2="608" y2="323.2"/>
<line x1="608" y1="323.2" x2="609" y2="347.2"/>
<line x1="609" y1="347.2" x2="610" y2="326.8"/>
<line x1="610" y1="326.8" x2="611" y2="306.4"/>
<line x1="611" y1="306.4" x2="612" y2="342.3"/>
<line x1="612" y1="342.3" x2="613" y2="323.2"/>
<line x1="613" y1="323.2" x2="614" y2="304.1"/>
<line x1="614" y1="304.1" x2="615" y2="300.3"/>
<line x1="615" y1="300.3" x2="616" y2="319.0"/>
<line x1="616" y1="319.0" x2="617" y2="337.8"/>
<line x1="617" y1="337.8" x2="618" y2="320.9"/>
<line x1="618" y1="320.9" x2="619" y2="333.2"/>
<line x1="619" y1="333.2" x2="620" y2="345.4"/>
<line x1="620" y1="345.4" x2="621" y2="340.0"/>
<line x1="621" y1="340.0" x2="622" y2="334.7"/>
<line x1="622" y1="334.7" x2="623" y2="337.8"/>
<line x1="623" y1="337.8" x2="624" y2="340.8"/>
<line x1="624" y1="340.8" x2="625" y2="343.9"/>
<line x1="625" y1="343.9" x2="626" y2="337.0"/>
<line x1="626" y1="337.0" x2="627" y2="330.1"/>
<line x1="627" y1="330.1" x2="628" y2="327.7"/>
<line x1="628" y1="327.7" x2="629" y2="325.2"/>
</g>
</svg></body></html>
